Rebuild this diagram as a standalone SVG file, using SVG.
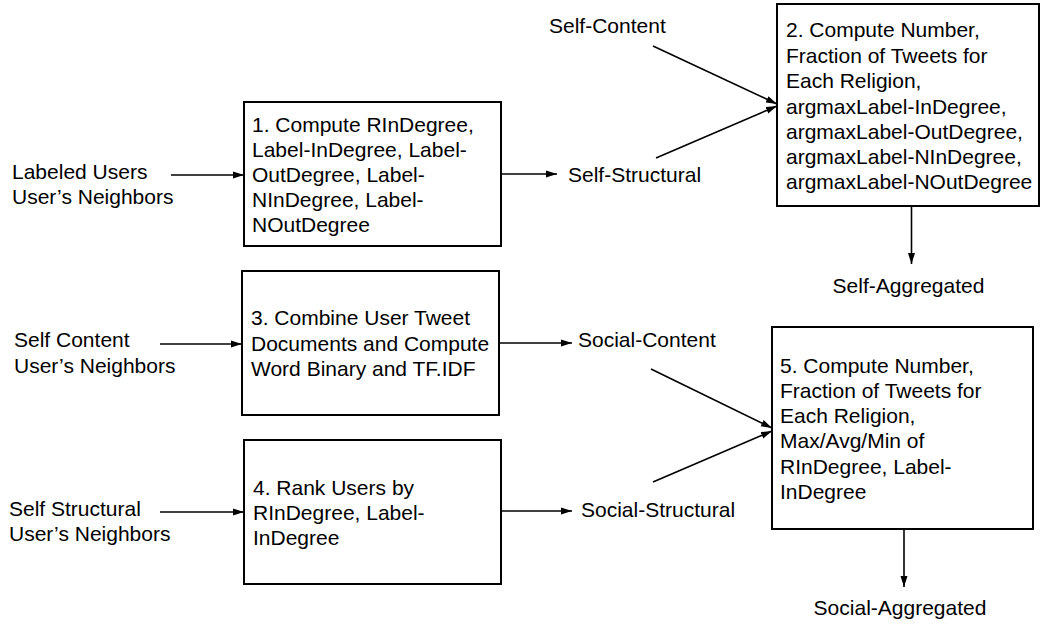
<svg xmlns="http://www.w3.org/2000/svg" width="1043" height="626" viewBox="0 0 1043 626">
<style>
text{font-family:"Liberation Sans",Arial,sans-serif;font-size:21px;fill:#000}
.box{fill:#fff;stroke:#000;stroke-width:2}
.c{fill:none;stroke:#000;stroke-width:1.6}
</style>
<defs>
<marker id="ah" markerUnits="userSpaceOnUse" markerWidth="12" markerHeight="8" refX="11" refY="4" orient="auto">
<path d="M0,0.5 L11,4 L0,7.5 z" fill="#000"/>
</marker>
</defs>
<rect width="1043" height="626" fill="#fff"/>
<g id="connectors">
<line class="c" x1="171" y1="175" x2="244" y2="175" marker-end="url(#ah)"/>
<line class="c" x1="160" y1="344" x2="242" y2="344" marker-end="url(#ah)"/>
<line class="c" x1="160" y1="512" x2="244" y2="512" marker-end="url(#ah)"/>
<line class="c" x1="501" y1="174" x2="557" y2="174" marker-end="url(#ah)"/>
<line class="c" x1="499" y1="343" x2="572" y2="343" marker-end="url(#ah)"/>
<line class="c" x1="501" y1="511" x2="572" y2="511" marker-end="url(#ah)"/>
<line class="c" x1="653" y1="46" x2="777" y2="104" marker-end="url(#ah)"/>
<line class="c" x1="656" y1="158" x2="777" y2="106" marker-end="url(#ah)"/>
<line class="c" x1="651" y1="369" x2="772" y2="428" marker-end="url(#ah)"/>
<line class="c" x1="653" y1="482" x2="772" y2="431" marker-end="url(#ah)"/>
<line class="c" x1="911.5" y1="206" x2="911.5" y2="264" marker-end="url(#ah)"/>
<line class="c" x1="904" y1="529" x2="904" y2="587" marker-end="url(#ah)"/>
</g>
<g id="in1">
<text x="12" y="179">Labeled Users</text>
<text x="12" y="204">User’s Neighbors</text>
</g>
<g id="in3">
<text x="14" y="347">Self Content</text>
<text x="14" y="373">User’s Neighbors</text>
</g>
<g id="in4">
<text x="9" y="516">Self Structural</text>
<text x="9" y="541">User’s Neighbors</text>
</g>
<g id="box1">
<rect class="box" x="244" y="102" width="257" height="144"/>
<text x="252" y="132">1. Compute RInDegree,</text>
<text x="252" y="157">Label-InDegree, Label-</text>
<text x="252" y="182">OutDegree, Label-</text>
<text x="252" y="207">NInDegree, Label-</text>
<text x="252" y="232">NOutDegree</text>
</g>
<g id="box2">
<rect class="box" x="777" y="4" width="262" height="202"/>
<text x="786" y="37">2. Compute Number,</text>
<text x="786" y="62.5">Fraction of Tweets for</text>
<text x="786" y="88">Each Religion,</text>
<text x="786" y="113.5">argmaxLabel-InDegree,</text>
<text x="786" y="139">argmaxLabel-OutDegree,</text>
<text x="786" y="164">argmaxLabel-NInDegree,</text>
<text x="786" y="189">argmaxLabel-NOutDegree</text>
</g>
<g id="box3">
<rect class="box" x="242" y="271" width="257" height="144"/>
<text x="251" y="325">3. Combine User Tweet</text>
<text x="251" y="350.5">Documents and Compute</text>
<text x="251" y="376">Word Binary and TF.IDF</text>
</g>
<g id="box4">
<rect class="box" x="244" y="440" width="257" height="144"/>
<text x="253" y="495">4. Rank Users by</text>
<text x="253" y="520">RInDegree, Label-</text>
<text x="253" y="545">InDegree</text>
</g>
<g id="box5">
<rect class="box" x="772" y="327" width="261" height="202"/>
<text x="780" y="373">5. Compute Number,</text>
<text x="780" y="398">Fraction of Tweets for</text>
<text x="780" y="423">Each Religion,</text>
<text x="780" y="448">Max/Avg/Min of</text>
<text x="780" y="473.5">RInDegree, Label-</text>
<text x="780" y="499">InDegree</text>
</g>
<g id="self-content"><text x="549" y="33">Self-Content</text></g>
<g id="self-structural"><text x="568" y="182">Self-Structural</text></g>
<g id="self-aggregated"><text x="908.5" y="293" text-anchor="middle">Self-Aggregated</text></g>
<g id="social-content"><text x="578" y="347">Social-Content</text></g>
<g id="social-structural"><text x="581" y="517">Social-Structural</text></g>
<g id="social-aggregated"><text x="900" y="615" text-anchor="middle">Social-Aggregated</text></g>
</svg>
